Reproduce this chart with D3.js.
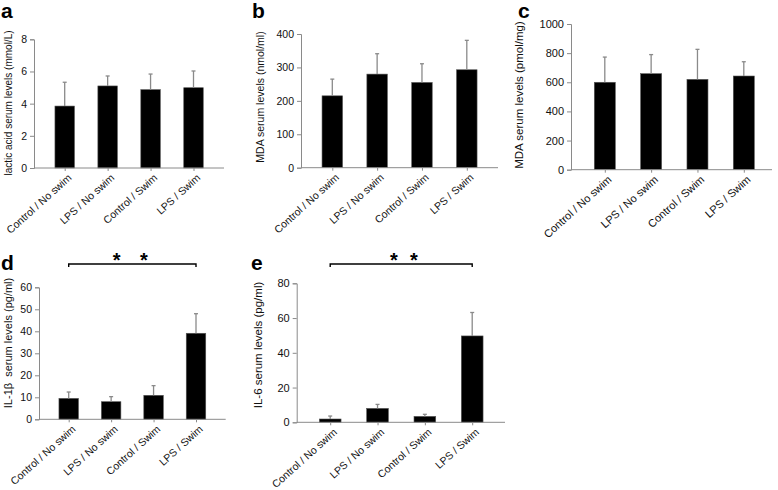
<!DOCTYPE html>
<html><head><meta charset="utf-8">
<script src="https://cdn.jsdelivr.net/npm/d3@7"></script>
<style>
html,body{margin:0;padding:0;background:#fff;}
svg text{font-family:"Liberation Sans",Arial,sans-serif;}
</style></head>
<body><svg id="chart" width="778" height="490"></svg>
<script>
const categories = ["Control / No swim", "LPS / No swim", "Control / Swim", "LPS / Swim"];

const lacticMean = [3.85, 5.10, 4.87, 4.99];
const lacticSD   = [1.48, 0.62, 0.97, 1.04];
const lacticTicks = [0, 2, 4, 6, 8];

const mdaNmolMean = [215, 280, 255, 293];
const mdaNmolSD   = [50, 61, 56, 88];
const mdaNmolTicks = [0, 100, 200, 300, 400];

const mdaPmolMean = [600, 659, 620, 643];
const mdaPmolSD   = [173, 131, 206, 98];
const mdaPmolTicks = [0, 200, 400, 600, 800, 1000];

const il1bMean = [9.5, 8.0, 10.9, 39.1];
const il1bSD   = [2.9, 2.3, 4.4, 8.9];
const il1bTicks = [0, 10, 20, 30, 40, 50, 60];

const il6Mean = [1.9, 8.0, 3.4, 49.7];
const il6SD   = [1.7, 2.3, 1.2, 13.5];
const il6Ticks = [0, 20, 40, 60, 80];

const panels = [
  {letter:"a", lx:1, ly:18, title:"lactic acid serum levels (mmol/L)", tx:8, ty:103, tfs:10,
   mean:lacticMean, sd:lacticSD, ticks:lacticTicks,
   ax:34, axEnd:224, y0:168, y1:39.3, c0:64.7, c1:193.5, bw:19.5, xfs:10.5, tfsz:10.5},
  {letter:"b", lx:252, ly:18, title:"MDA serum levels (nmol/ml)", tx:260, ty:97, tfs:10.5,
   mean:mdaNmolMean, sd:mdaNmolSD, ticks:mdaNmolTicks,
   ax:301, axEnd:498, y0:167.7, y1:34, c0:332.3, c1:466.8, bw:20.5, xfs:10.5, tfsz:10.5},
  {letter:"c", lx:518, ly:18, title:"MDA serum levels (pmol/mg)", tx:519, ty:95, tfs:11.5,
   mean:mdaPmolMean, sd:mdaPmolSD, ticks:mdaPmolTicks,
   ax:571, axEnd:772, y0:169.7, y1:24, c0:604.8, c1:743.8, bw:21, xfs:11, tfsz:11},
  {letter:"d", lx:1, ly:270, title:"IL-1\u03b2  serum levels (pg/ml)", tx:8, ty:343, tfs:11,
   mean:il1bMean, sd:il1bSD, ticks:il1bTicks,
   ax:39, axEnd:225.7, y0:419.3, y1:287.3, c0:68.7, c1:196, bw:19.5, xfs:10.5, tfsz:10.5},
  {letter:"e", lx:251, ly:270, title:"IL-6 serum levels (pg/ml)", tx:258, ty:345, tfs:11.5,
   mean:il6Mean, sd:il6SD, ticks:il6Ticks,
   ax:296.7, axEnd:505, y0:422.3, y1:283.3, c0:330.2, c1:472.2, bw:21.7, xfs:10.5, tfsz:11}
];
panels[3].sig = {y:264, stars:[116.7, 144]};
panels[4].sig = {y:264, stars:[394, 414]};

const svg = d3.select("#chart");
const axisColor = "#8a8a8a";

panels.forEach(p => {
  const g = svg.append("g");
  const x = d3.scalePoint().domain(categories).range([p.c0, p.c1]);
  const y = d3.scaleLinear().domain([0, p.ticks[p.ticks.length-1]]).range([p.y0, p.y1]);

  // bars
  g.selectAll("rect.bar").data(categories).enter().append("rect")
    .attr("x", d => x(d) - p.bw/2)
    .attr("width", p.bw)
    .attr("y", (d,i) => y(p.mean[i]))
    .attr("height", (d,i) => p.y0 - y(p.mean[i]))
    .attr("fill", "#000").attr("stroke", "#555").attr("stroke-width", 0.6);

  // error bars (upper only)
  g.selectAll("line.err").data(categories).enter().append("line")
    .attr("x1", d => x(d)).attr("x2", d => x(d))
    .attr("y1", (d,i) => y(p.mean[i]))
    .attr("y2", (d,i) => y(p.mean[i] + p.sd[i]))
    .attr("stroke", axisColor).attr("stroke-width", 1.3);
  g.selectAll("line.cap").data(categories).enter().append("line")
    .attr("x1", d => x(d) - 2).attr("x2", d => x(d) + 2)
    .attr("y1", (d,i) => y(p.mean[i] + p.sd[i]))
    .attr("y2", (d,i) => y(p.mean[i] + p.sd[i]))
    .attr("stroke", axisColor).attr("stroke-width", 1.3);

  // y axis
  const ya = g.append("g").attr("transform", `translate(${p.ax},0)`)
    .call(d3.axisLeft(y).tickValues(p.ticks).tickSize(4).tickPadding(3).tickFormat(d3.format("d")));
  ya.select(".domain").attr("stroke", axisColor).attr("stroke-width", 1);
  ya.selectAll(".tick line").attr("stroke", axisColor);
  ya.selectAll(".tick text").attr("font-size", p.tfsz).attr("fill", "#111")
    .attr("font-family", "Liberation Sans, Arial, sans-serif");

  // x axis
  const xa = g.append("g").attr("transform", `translate(0,${p.y0})`)
    .call(d3.axisBottom(x).tickSize(3).tickFormat(""));
  xa.select(".domain").remove();
  xa.selectAll(".tick line").attr("stroke", axisColor);
  g.append("line").attr("x1", p.ax).attr("x2", p.axEnd).attr("y1", p.y0).attr("y2", p.y0)
    .attr("stroke", axisColor).attr("stroke-width", 1);

  // x labels
  g.selectAll("text.xl").data(categories).enter().append("text")
    .attr("transform", d => `translate(${x(d) + 5},${p.y0 + 8}) rotate(-42)`)
    .attr("text-anchor", "end").attr("dy", "0.35em")
    .attr("font-size", p.xfs).attr("fill", "#111")
    .text(d => d);

  // y title
  g.append("text")
    .attr("transform", `translate(${p.tx},${p.ty}) rotate(-90)`)
    .attr("text-anchor", "middle").attr("dy", "0.35em")
    .attr("font-size", p.tfs).attr("fill", "#111")
    .style("white-space", "pre")
    .text(p.title);

  // panel letter
  g.append("text").attr("x", p.lx).attr("y", p.ly)
    .attr("font-size", 21).attr("font-weight", "bold").attr("fill", "#000")
    .text(p.letter);

  // significance bracket
  if (p.sig) {
    const xa0 = x(categories[0]), xa1 = x(categories[3]);
    g.append("path")
      .attr("d", `M${xa0},${p.sig.y + 3}V${p.sig.y}H${xa1}V${p.sig.y + 3}`)
      .attr("fill", "none").attr("stroke", "#000").attr("stroke-width", 1.4);
    p.sig.stars.forEach(sx => {
      g.append("text").attr("x", sx).attr("y", p.sig.y + 3)
        .attr("text-anchor", "middle").attr("font-size", 20).attr("font-weight", "bold")
        .text("*");
    });
  }
});
</script>
</body></html>
